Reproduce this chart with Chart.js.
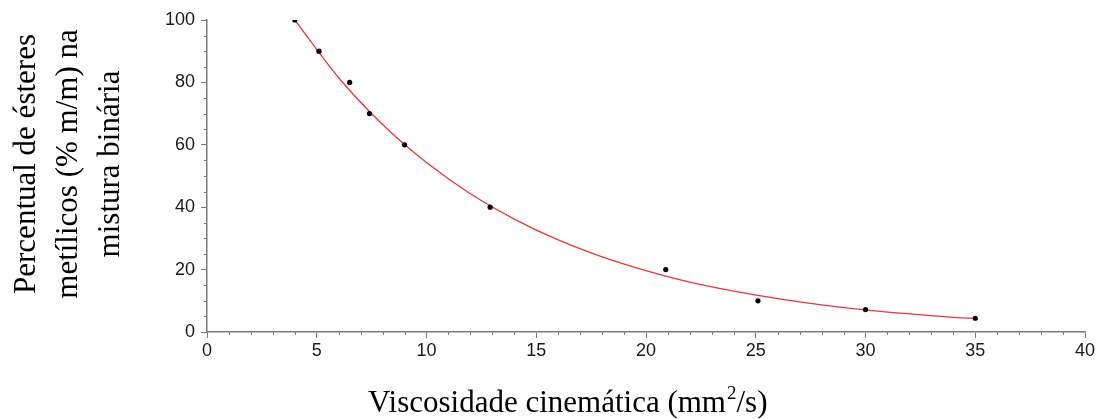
<!DOCTYPE html>
<html>
<head>
<meta charset="utf-8">
<script src="https://cdn.jsdelivr.net/npm/chart.js@4/dist/chart.umd.min.js"></script>
<style>
  body { margin: 0; background: #fff; }
  canvas { display: block; }
</style>
</head>
<body>
<canvas id="chart" width="1098" height="419"></canvas>
<script>
// measured points
const viscosity = [4.0, 5.1, 6.5, 7.4, 9.0, 12.9, 20.9, 25.1, 30.0, 35.0];
const esterPct = [100, 90, 80, 70, 60, 40, 20, 10, 7.2, 4.4];

// fitted curve
const fitX = [4, 6, 8, 10, 12, 14, 16, 18, 20, 22, 24, 26, 28, 30, 32, 34, 35];
const fitY = [100, 81.5, 66.5, 54.3, 44.3, 36.2, 29.5, 24.1, 19.7, 16.0, 13.1, 10.7, 8.7, 7.1, 5.8, 4.7, 4.3];

const xTicks = [0, 5, 10, 15, 20, 25, 30, 35, 40];
const yTicks = [0, 20, 40, 60, 80, 100];

const axisGray = '#7a7a7a';

// minor ticks + axis titles
const extras = {
  id: 'extras',
  afterDraw(chart) {
    const ctx = chart.ctx;
    const xs = chart.scales.x, ys = chart.scales.y;
    const area = chart.chartArea;
    ctx.save();
    ctx.strokeStyle = axisGray;
    ctx.lineWidth = 1;
    ctx.beginPath();
    for (let v = 0; v <= 40; v++) {
      if (v % 5 === 0) continue;
      const px = Math.round(xs.getPixelForValue(v)) + 0.5;
      ctx.moveTo(px, area.bottom);
      ctx.lineTo(px, area.bottom + 3);
    }
    for (let v = 0; v <= 100; v += 5) {
      if (v % 20 === 0) continue;
      const py = Math.round(ys.getPixelForValue(v)) + 0.5;
      ctx.moveTo(area.left - 3, py);
      ctx.lineTo(area.left, py);
    }
    ctx.stroke();

    ctx.fillStyle = '#000';
    ctx.font = '31px "Liberation Serif", "Times New Roman", serif';
    ctx.textBaseline = 'alphabetic';

    // x title with superscript
    let x = 368;
    const y = 412;
    ctx.textAlign = 'left';
    const part1 = 'Viscosidade cinemática (mm';
    ctx.fillText(part1, x, y);
    x += ctx.measureText(part1).width;
    ctx.font = '19px "Liberation Serif", "Times New Roman", serif';
    ctx.fillText('2', x + 1, y - 13);
    x += ctx.measureText('2').width + 1;
    ctx.font = '31px "Liberation Serif", "Times New Roman", serif';
    ctx.fillText('/s)', x, y);

    // y title, three rotated lines
    const lines = ['Percentual de ésteres', 'metílicos (% m/m) na', 'mistura binária'];
    const baselines = [35, 77, 119];
    ctx.textAlign = 'center';
    lines.forEach((t, i) => {
      ctx.save();
      ctx.translate(baselines[i], 164);
      ctx.rotate(-Math.PI / 2);
      ctx.fillText(t, 0, 0);
      ctx.restore();
    });
    ctx.restore();
  }
};

new Chart(document.getElementById('chart'), {
  type: 'scatter',
  data: {
    datasets: [
      {
        label: 'dados',
        data: viscosity.map((v, i) => ({ x: v, y: esterPct[i] })),
        backgroundColor: '#000',
        borderColor: '#000',
        pointRadius: 2.6,
        pointBorderWidth: 0,
        order: 0
      },
      {
        label: 'ajuste',
        data: fitX.map((v, i) => ({ x: v, y: fitY[i] })),
        showLine: true,
        borderColor: '#e8383d',
        borderWidth: 1.3,
        pointRadius: 0,
        tension: 0.4,
        cubicInterpolationMode: 'monotone',
        order: 1
      }
    ]
  },
  options: {
    responsive: false,
    animation: false,
    layout: { padding: { top: 20, right: 13, left: 0, bottom: 0 } },
    plugins: {
      legend: { display: false },
      tooltip: { enabled: false }
    },
    scales: {
      x: {
        type: 'linear',
        min: 0,
        max: 40,
        afterBuildTicks: (s) => { s.ticks = xTicks.map(v => ({ value: v })); },
        afterFit: (s) => { s.height = 87; },
        border: { color: axisGray, width: 1.5 },
        grid: { drawOnChartArea: false, tickLength: 6, tickColor: axisGray, tickWidth: 1 },
        ticks: {
          color: '#1a1a1a',
          padding: 2,
          maxRotation: 0,
          font: { family: '"Liberation Sans", Arial, sans-serif', size: 18 }
        }
      },
      y: {
        type: 'linear',
        min: 0,
        max: 100,
        afterBuildTicks: (s) => { s.ticks = yTicks.map(v => ({ value: v })); },
        afterFit: (s) => { s.width = 207; },
        border: { color: axisGray, width: 1.5 },
        grid: { drawOnChartArea: false, tickLength: 6, tickColor: axisGray, tickWidth: 1 },
        ticks: {
          color: '#1a1a1a',
          padding: 6,
          font: { family: '"Liberation Sans", Arial, sans-serif', size: 18 }
        }
      }
    }
  },
  plugins: [extras]
});
</script>
</body>
</html>
